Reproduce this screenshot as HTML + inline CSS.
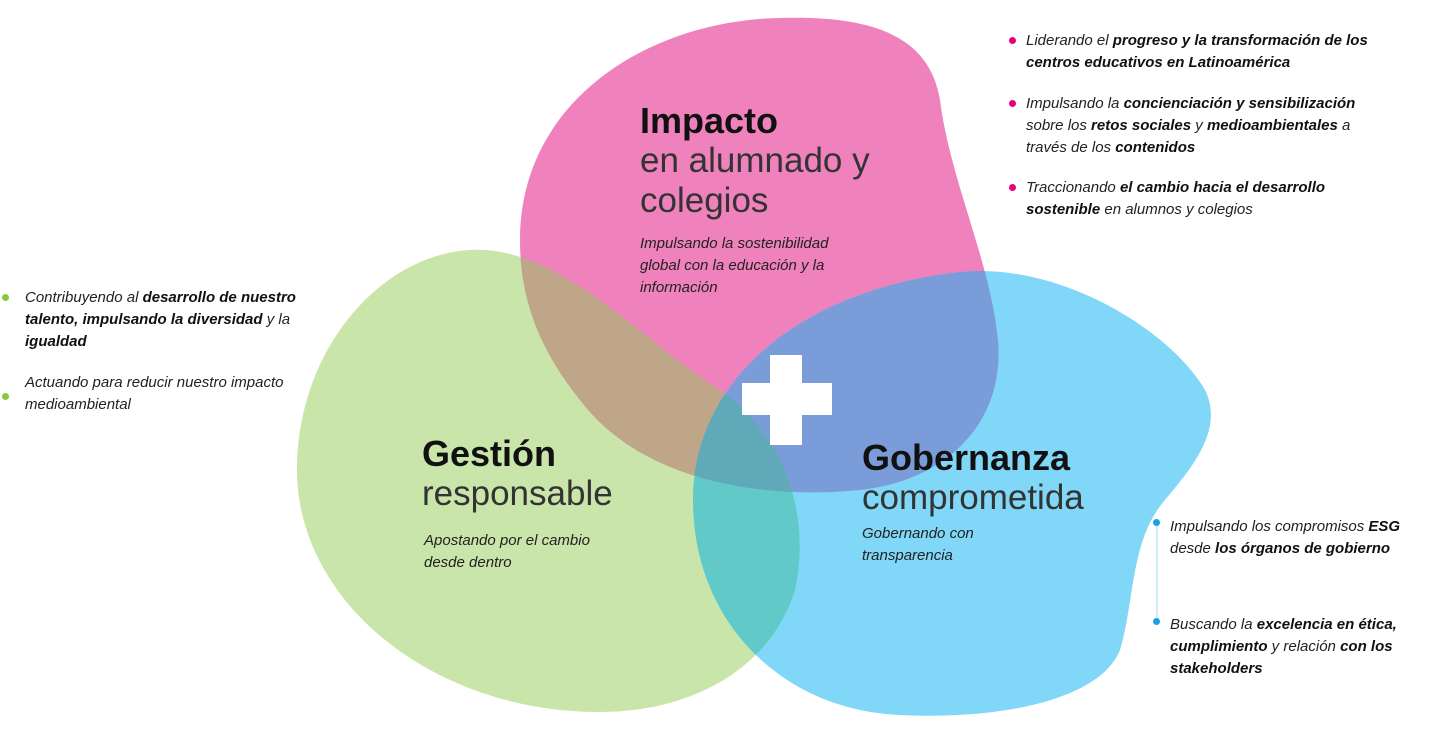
<!DOCTYPE html>
<html><head><meta charset="utf-8"><style>
body{margin:0;width:1451px;height:735px;background:#fff;position:relative;overflow:hidden;font-family:"Liberation Sans",sans-serif;color:#111}
.t{position:absolute;font-style:italic;font-size:15px;line-height:22px;color:#222}
.t b{font-weight:bold;color:#111}
.dot{position:absolute;width:7px;height:7px;border-radius:50%}
.h{position:absolute;line-height:1}
.h b{font-size:36px;font-weight:bold;color:#111}
.h span{font-size:35px;line-height:40px;color:#333;display:block;margin-top:2px}
</style></head><body>
<svg width="1451" height="735" style="position:absolute;left:0;top:0">
<defs>
<path id="P" d="M520,240 C520,100 650,20 780,18 C880,15 930,40 940,100 C950,180 990,260 998,340 C1005,420 950,480 860,490 C760,500 640,480 580,400 C540,350 520,300 520,240 Z"/>
<path id="G" d="M297,470 C297,350 380,255 470,250 C560,245 640,340 720,390 C790,440 810,520 795,590 C770,670 690,712 600,712 C430,712 297,600 297,470 Z"/>
<path id="B" d="M693,500 C693,380 800,290 960,272 C1060,262 1170,330 1205,390 C1225,430 1190,470 1165,500 C1130,540 1135,600 1120,650 C1100,700 1000,720 900,715 C780,710 693,620 693,500 Z"/>
<clipPath id="cP"><use href="#P"/></clipPath>
<clipPath id="cG"><use href="#G"/></clipPath>
<clipPath id="cB"><use href="#B"/></clipPath>
</defs>
<use href="#G" fill="#c9e5a9"/>
<use href="#P" fill="#ef82bd"/>
<use href="#B" fill="#80d7f7"/>
<use href="#G" fill="#bfa689" clip-path="url(#cP)"/>
<use href="#B" fill="#7a9cd8" clip-path="url(#cP)"/>
<use href="#B" fill="#62c9c9" clip-path="url(#cG)"/>
<g clip-path="url(#cG)"><use href="#B" fill="#5fa9b8" clip-path="url(#cP)"/></g>
<rect x="770" y="355" width="32" height="90" fill="#fff"/>
<rect x="742" y="383" width="90" height="32" fill="#fff"/>
<line x1="1157" y1="525" x2="1157" y2="622" stroke="#bfe6f7" stroke-width="1.5"/>
</svg>

<div class="h" style="left:640px;top:103px"><b>Impacto</b><span>en alumnado y<br>colegios</span></div>
<div class="t" style="left:640px;top:233px">Impulsando la sostenibilidad<br>global con la educación y la<br>información</div>

<div class="h" style="left:422px;top:436px"><b>Gestión</b><span>responsable</span></div>
<div class="t" style="left:424px;top:530px">Apostando por el cambio<br>desde dentro</div>

<div class="h" style="left:862px;top:440px"><b>Gobernanza</b><span>comprometida</span></div>
<div class="t" style="left:862px;top:523px">Gobernando con<br>transparencia</div>

<div class="dot" style="left:1009px;top:37px;background:#e6007e"></div>
<div class="t" style="left:1026px;top:30px">Liderando el <b>progreso y la transformación de los<br>centros educativos en Latinoamérica</b></div>
<div class="dot" style="left:1009px;top:100px;background:#e6007e"></div>
<div class="t" style="left:1026px;top:93px">Impulsando la <b>concienciación y sensibilización</b><br>sobre los <b>retos sociales</b> y <b>medioambientales</b> a<br>través de los <b>contenidos</b></div>
<div class="dot" style="left:1009px;top:184px;background:#e6007e"></div>
<div class="t" style="left:1026px;top:177px">Traccionando <b>el cambio hacia el desarrollo<br>sostenible</b> en alumnos y colegios</div>

<div class="dot" style="left:2px;top:294px;background:#8cc63f"></div>
<div class="t" style="left:25px;top:287px">Contribuyendo al <b>desarrollo de nuestro<br>talento, impulsando la diversidad</b> y la<br><b>igualdad</b></div>
<div class="dot" style="left:2px;top:393px;background:#8cc63f"></div>
<div class="t" style="left:25px;top:372px">Actuando para reducir nuestro impacto<br>medioambiental</div>

<div class="dot" style="left:1153px;top:519px;background:#1ba1e2"></div>
<div class="t" style="left:1170px;top:516px">Impulsando los compromisos <b>ESG</b><br>desde <b>los órganos de gobierno</b></div>
<div class="dot" style="left:1153px;top:618px;background:#1ba1e2"></div>
<div class="t" style="left:1170px;top:614px">Buscando la <b>excelencia en ética,<br>cumplimiento</b> y relación <b>con los<br>stakeholders</b></div>
</body></html>
